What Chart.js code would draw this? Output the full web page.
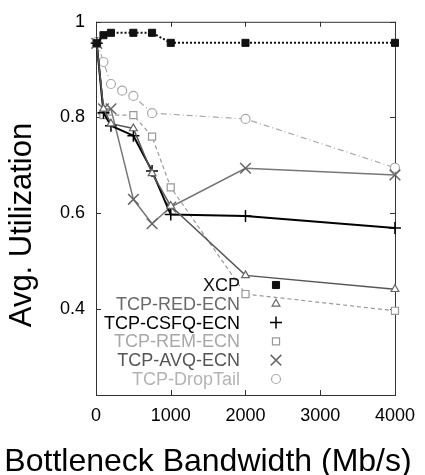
<!DOCTYPE html>
<html>
<head>
<meta charset="utf-8">
<script src="https://cdn.jsdelivr.net/npm/chart.js@4"></script>
<style>
  html, body { margin: 0; padding: 0; background: #fff; }
</style>
</head>
<body>
<canvas id="utilChart" width="425" height="475"></canvas>
<script>
// values (bandwidth in Mb/s, utilization 0..1)
const seriesNames = ['XCP', 'TCP-RED-ECN', 'TCP-CSFQ-ECN', 'TCP-REM-ECN', 'TCP-AVQ-ECN', 'TCP-DropTail'];
const bandwidth = [10, 100, 200, 500, 750, 1000, 2000, 4000];
const remBandwidth = [10, 100, 500, 750, 1000, 2000, 4000];
const dropTailBandwidth = [10, 100, 200, 350, 500, 750, 2000, 4000];

const xcp = [0.955, 0.972, 0.977, 0.977, 0.977, 0.956, 0.956, 0.956];
const redEcn = [0.955, 0.818, 0.787, 0.777, 0.683, 0.615, 0.470, 0.441];
const csfqEcn = [0.955, 0.810, 0.783, 0.762, 0.688, 0.597, 0.594, 0.569];
const remEcn = [0.955, 0.805, 0.805, 0.760, 0.654, 0.431, 0.396];
const avqEcn = [0.955, 0.818, 0.818, 0.629, 0.578, 0.613, 0.694, 0.680];
const dropTail = [0.958, 0.916, 0.870, 0.856, 0.845, 0.809, 0.797, 0.695];

const xTicks = [0, 1000, 2000, 3000, 4000];
const yTicks = [0.4, 0.6, 0.8, 1];

const FONT = "'Liberation Sans', Arial, Helvetica, sans-serif";

function pairs(xs, ys) {
  return xs.map((x, i) => ({ x: x, y: ys[i] }));
}

// legend text colours (differ a bit from the line colours)
const legendColors = ['#111', '#6a6a6a', '#000', '#a8a8a8', '#555', '#b4b4b4'];

const datasets = [
  {
    label: seriesNames[0], data: pairs(bandwidth, xcp),
    borderColor: '#111', borderWidth: 2, borderDash: [2, 2],
    pointStyle: 'rect', pointRadius: 5, pointBackgroundColor: '#111', pointBorderColor: '#111', pointBorderWidth: 1
  },
  {
    label: seriesNames[1], data: pairs(bandwidth, redEcn),
    borderColor: '#555', borderWidth: 1.5,
    pointStyle: 'triangle', pointRadius: 4.5, pointBackgroundColor: '#fff', pointBorderColor: '#666', pointBorderWidth: 1.2
  },
  {
    label: seriesNames[2], data: pairs(bandwidth, csfqEcn),
    borderColor: '#000', borderWidth: 2,
    pointStyle: 'cross', pointRadius: 6, pointBackgroundColor: '#000', pointBorderColor: '#000', pointBorderWidth: 1.5
  },
  {
    label: seriesNames[3], data: pairs(remBandwidth, remEcn),
    borderColor: '#9a9a9a', borderWidth: 1.2, borderDash: [4, 3],
    pointStyle: 'rect', pointRadius: 5, pointBackgroundColor: '#fff', pointBorderColor: '#999', pointBorderWidth: 1.2
  },
  {
    label: seriesNames[4], data: pairs(bandwidth, avqEcn),
    borderColor: '#777', borderWidth: 1.5,
    pointStyle: 'crossRot', pointRadius: 7.5, pointBackgroundColor: '#666', pointBorderColor: '#666', pointBorderWidth: 1.5
  },
  {
    label: seriesNames[5], data: pairs(dropTailBandwidth, dropTail),
    borderColor: '#aaa', borderWidth: 1.2, borderDash: [6, 3, 1, 3],
    pointStyle: 'circle', pointRadius: 4.5, pointBackgroundColor: '#fff', pointBorderColor: '#aaa', pointBorderWidth: 1.2
  }
];
datasets.forEach(d => { d.tension = 0; d.fill = false; d.clip = false; });

// frame with inward ticks, like the gnuplot original
const framePlugin = {
  id: 'frame',
  beforeDatasetsDraw(chart) {
    const { ctx, chartArea: a, scales: { x, y } } = chart;
    ctx.save();
    ctx.strokeStyle = '#333';
    ctx.lineWidth = 1;
    ctx.strokeRect(a.left + 0.5, a.top + 0.5, a.right - a.left, a.bottom - a.top);
    ctx.beginPath();
    xTicks.forEach(v => {
      const px = Math.round(x.getPixelForValue(v)) + 0.5;
      ctx.moveTo(px, a.bottom); ctx.lineTo(px, a.bottom - 5);
      ctx.moveTo(px, a.top); ctx.lineTo(px, a.top + 5);
    });
    yTicks.forEach(v => {
      const py = Math.round(y.getPixelForValue(v)) + 0.5;
      ctx.moveTo(a.left, py); ctx.lineTo(a.left + 5, py);
      ctx.moveTo(a.right, py); ctx.lineTo(a.right - 5, py);
    });
    ctx.stroke();
    ctx.restore();
  },
  afterDraw(chart) {
    const ctx = chart.ctx;
    ctx.save();
    // legend inside the plot: text right-aligned, marker on the right
    ctx.font = '18px ' + FONT;
    ctx.textAlign = 'right';
    ctx.textBaseline = 'middle';
    chart.data.datasets.forEach((d, i) => {
      const ly = 285 + i * 18.8;
      ctx.fillStyle = legendColors[i];
      ctx.fillText(d.label, 240, ly + 1);
      ctx.fillStyle = d.pointBackgroundColor;
      ctx.strokeStyle = d.pointBorderColor;
      ctx.lineWidth = d.pointBorderWidth;
      ctx.setLineDash([]);
      Chart.helpers.drawPoint(ctx, {
        pointStyle: d.pointStyle, radius: d.pointRadius, rotation: 0, borderWidth: d.pointBorderWidth
      }, 276, ly);
    });
    // axis titles
    ctx.fillStyle = '#000';
    ctx.textAlign = 'center';
    ctx.font = '32px ' + FONT;
    ctx.fillText('Bottleneck Bandwidth (Mb/s)', 208, 462);
    ctx.translate(22, 225);
    ctx.rotate(-Math.PI / 2);
    ctx.font = '31px ' + FONT;
    ctx.fillText('Avg. Utilization', 0, 0);
    ctx.restore();
  }
};

new Chart(document.getElementById('utilChart'), {
  type: 'line',
  data: { datasets: datasets },
  options: {
    responsive: false,
    animation: false,
    layout: { padding: { left: 0, right: 22, top: 13, bottom: 0 } },
    plugins: {
      legend: { display: false },
      tooltip: { enabled: false }
    },
    scales: {
      x: {
        type: 'linear', min: 0, max: 4000,
        grid: { display: false, drawTicks: false },
        border: { display: false },
        afterBuildTicks: s => { s.ticks = xTicks.map(v => ({ value: v })); },
        afterFit: s => { s.height = 80; },
        ticks: { color: '#000', padding: 10, font: { family: FONT, size: 18 }, maxRotation: 0, autoSkip: false, callback: v => String(v) }
      },
      y: {
        min: 0.22, max: 1,
        grid: { display: false, drawTicks: false },
        border: { display: false },
        afterBuildTicks: s => { s.ticks = yTicks.map(v => ({ value: v })); },
        afterFit: s => { s.width = 96; },
        ticks: { color: '#000', padding: 11, font: { family: FONT, size: 18 }, callback: v => String(v) }
      }
    }
  },
  plugins: [framePlugin]
});
</script>
</body>
</html>
